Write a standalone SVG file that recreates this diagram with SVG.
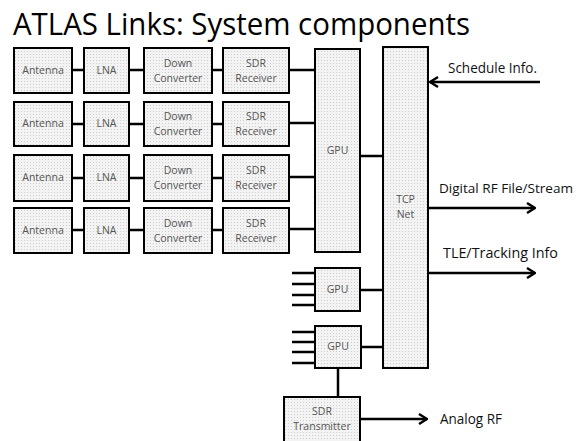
<svg xmlns="http://www.w3.org/2000/svg" width="584" height="441" viewBox="0 0 584 441">
<defs>
<pattern id="dots" width="3" height="3" patternUnits="userSpaceOnUse">
<rect width="3" height="3" fill="#f3f3f3"/>
<rect width="1" height="1" fill="#cdcdcd"/>
</pattern>
<marker id="arr" viewBox="0 0 10 12" refX="9" refY="6" markerWidth="10" markerHeight="12" orient="auto" markerUnits="userSpaceOnUse">
<path d="M1,1 L9,6 L1,11" fill="none" stroke="#000" stroke-width="2.4"/>
</marker>
</defs>
<style>
.box{fill:url(#dots);stroke:#000;stroke-width:2}
.lbl{font-family:"Open Sans","Liberation Sans",sans-serif;font-size:10.5px;fill:#555;text-anchor:middle}
.big{font-family:"Open Sans","Liberation Sans",sans-serif;font-size:15px;fill:#111}
.ln{stroke:#000;stroke-width:2.5;fill:none}
.ar{stroke:#000;stroke-width:2.5;fill:none}
</style>
<rect width="584" height="441" fill="#fff"/>
<text x="13" y="35" font-family="'Open Sans','Liberation Sans',sans-serif" font-size="31" fill="#000" textLength="457" lengthAdjust="spacingAndGlyphs">ATLAS Links: System components</text>

<g id="connectors">
<path class="ln" d="M72,70H84M129,70H144M212,70H223M289,70H315"/>
<path class="ln" d="M72,124H84M129,124H144M212,124H223M289,123H315"/>
<path class="ln" d="M72,178H84M129,178H144M212,178H223M289,177H315"/>
<path class="ln" d="M72,230H84M129,230H144M212,230H223M289,229H315"/>
<path class="ln" d="M360,156H383M360,290H383M361,347H383"/>
<path class="ln" d="M292,273H315M292,284H315M292,295H315M292,305H315"/>
<path class="ln" d="M292,332H315M292,342H315M292,352H315M292,363H315"/>
<path class="ln" d="M338,368V397"/>
<path class="ar" d="M540,82H430" marker-end="url(#arr)"/>
<path class="ar" d="M428,208H535" marker-end="url(#arr)"/>
<path class="ar" d="M428,273H535" marker-end="url(#arr)"/>
<path class="ar" d="M360,419H427" marker-end="url(#arr)"/>
</g>

<g id="antenna1"><rect class="box" x="14" y="48" width="58" height="45"/><text class="lbl" x="43" y="74">Antenna</text></g>
<g id="lna1"><rect class="box" x="84" y="48" width="45" height="45"/><text class="lbl" x="106.5" y="74">LNA</text></g>
<g id="down1"><rect class="box" x="144" y="48" width="68" height="45"/><text class="lbl" x="178" y="67">Down</text><text class="lbl" x="178" y="82">Converter</text></g>
<g id="sdr1"><rect class="box" x="223" y="48" width="66" height="45"/><text class="lbl" x="256" y="67">SDR</text><text class="lbl" x="256" y="82">Receiver</text></g>

<g id="antenna2"><rect class="box" x="14" y="102" width="58" height="44"/><text class="lbl" x="43" y="127">Antenna</text></g>
<g id="lna2"><rect class="box" x="84" y="102" width="45" height="44"/><text class="lbl" x="106.5" y="127">LNA</text></g>
<g id="down2"><rect class="box" x="144" y="102" width="68" height="44"/><text class="lbl" x="178" y="120">Down</text><text class="lbl" x="178" y="135">Converter</text></g>
<g id="sdr2"><rect class="box" x="223" y="102" width="66" height="44"/><text class="lbl" x="256" y="120">SDR</text><text class="lbl" x="256" y="135">Receiver</text></g>

<g id="antenna3"><rect class="box" x="14" y="155" width="58" height="46"/><text class="lbl" x="43" y="181">Antenna</text></g>
<g id="lna3"><rect class="box" x="84" y="155" width="45" height="46"/><text class="lbl" x="106.5" y="181">LNA</text></g>
<g id="down3"><rect class="box" x="144" y="155" width="68" height="46"/><text class="lbl" x="178" y="174">Down</text><text class="lbl" x="178" y="189">Converter</text></g>
<g id="sdr3"><rect class="box" x="223" y="155" width="66" height="46"/><text class="lbl" x="256" y="174">SDR</text><text class="lbl" x="256" y="189">Receiver</text></g>

<g id="antenna4"><rect class="box" x="14" y="208" width="58" height="45"/><text class="lbl" x="43" y="234">Antenna</text></g>
<g id="lna4"><rect class="box" x="84" y="208" width="45" height="45"/><text class="lbl" x="106.5" y="234">LNA</text></g>
<g id="down4"><rect class="box" x="144" y="208" width="68" height="45"/><text class="lbl" x="178" y="227">Down</text><text class="lbl" x="178" y="242">Converter</text></g>
<g id="sdr4"><rect class="box" x="223" y="208" width="66" height="45"/><text class="lbl" x="256" y="227">SDR</text><text class="lbl" x="256" y="242">Receiver</text></g>

<g id="gpu-main"><rect class="box" x="315" y="49" width="45" height="203"/><text class="lbl" x="337.5" y="154">GPU</text></g>
<g id="tcp-net"><rect class="box" x="383" y="47" width="45" height="321"/><text class="lbl" x="405.5" y="203">TCP</text><text class="lbl" x="405.5" y="218">Net</text></g>
<g id="gpu2"><rect class="box" x="315" y="268" width="45" height="43"/><text class="lbl" x="337.5" y="293">GPU</text></g>
<g id="gpu3"><rect class="box" x="315" y="326" width="46" height="42"/><text class="lbl" x="338" y="350">GPU</text></g>
<g id="sdr-tx"><rect class="box" x="284" y="397" width="76" height="50"/><text class="lbl" x="322" y="415">SDR</text><text class="lbl" x="322" y="430">Transmitter</text></g>

<g id="labels">
<text class="big" x="448" y="73" textLength="89" lengthAdjust="spacingAndGlyphs">Schedule Info.</text>
<text class="big" x="439" y="193" font-size="13" style="font-size:13px" textLength="134" lengthAdjust="spacingAndGlyphs">Digital RF File/Stream</text>
<text class="big" x="443" y="258" textLength="115" lengthAdjust="spacingAndGlyphs">TLE/Tracking Info</text>
<text class="big" x="440" y="424" textLength="62" lengthAdjust="spacingAndGlyphs">Analog RF</text>
</g>
</svg>
